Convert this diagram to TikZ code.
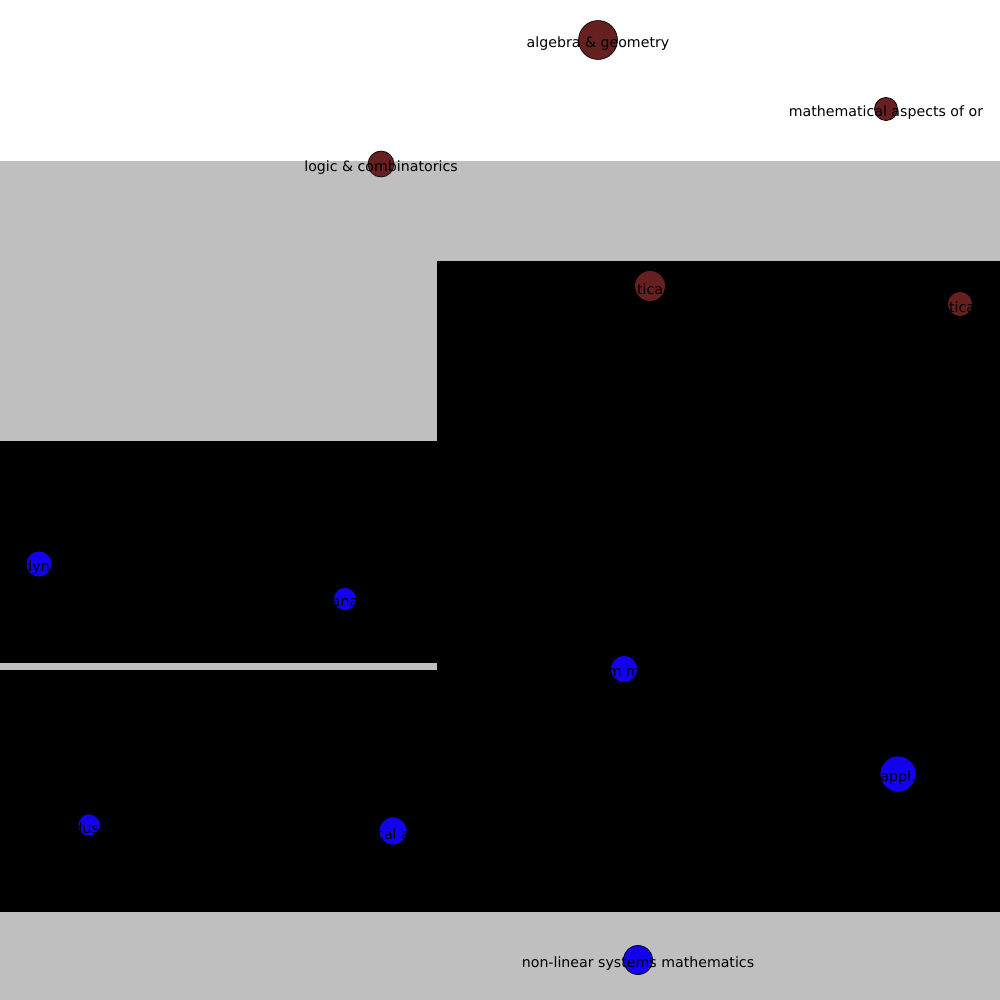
\documentclass[tikz,border=0pt]{standalone}
\usepackage{fontspec}
\setmainfont{DejaVu Sans}
\definecolor{bggray}{RGB}{191,191,191}
\definecolor{darkred}{RGB}{102,32,32}
\definecolor{nodeblue}{RGB}{20,0,240}
\tikzset{
  rednode/.style={circle,draw=black,line width=0.5pt,fill=darkred,inner sep=0pt},
  bluenode/.style={circle,draw=black,line width=0.5pt,fill=nodeblue,inner sep=0pt},
  lbl/.style={text=black,font=\fontsize{10.2pt}{12pt}\selectfont,inner sep=0pt}
}
\begin{document}
\begin{tikzpicture}[x=0.72pt,y=-0.72pt]
\useasboundingbox (0,0) rectangle (1000,1000);
\fill[white] (0,0) rectangle (1000,1000);
\fill[bggray] (0,161) rectangle (1000,1000);
\fill[black] (437,261) rectangle (1000,912);
\fill[black] (0,441) rectangle (437,663);
\fill[black] (0,670) rectangle (437,912);
% red nodes
\node[rednode,minimum size=28pt] (ag) at (598,40) {};
\node[lbl] (agl) at (598,43.5) {algebra \& geometry};
\node[rednode,minimum size=16.6pt] (mao) at (886,109) {};
\node[lbl] (maol) at (886,112.5) {mathematical aspects of or};
\node[rednode,minimum size=18.7pt] (lc) at (381,164) {};
\node[lbl] (lcl) at (381,167.5) {logic \& combinatorics};
\node[rednode,minimum size=22.3pt] (st) at (650,286) {};
\node[lbl] (stl) at (650,289.5) {tica};
\node[rednode,minimum size=18pt] (st2) at (960,304) {};
\node[lbl] (st2l) at (962,307.5) {tica};
% blue nodes
\node[bluenode,minimum size=18.7pt] (dy) at (39,564) {};
\node[lbl] (dyl) at (41,567.5) {dyna};
\node[bluenode,minimum size=16.6pt] (an) at (345,599) {};
\node[lbl] (anl) at (345,602.5) {ana};
\node[bluenode,minimum size=19.4pt] (mm) at (624,669) {};
\node[lbl] (mml) at (624,672.5) {m m};
\node[bluenode,minimum size=25.9pt] (ap) at (898,774) {};
\node[lbl] (apl) at (898,777.5) {appl.};
\node[bluenode,minimum size=15.8pt] (du) at (89,825) {};
\node[lbl] (dul) at (89,828.5) {dust};
\node[bluenode,minimum size=20.2pt] (ca) at (393,831) {};
\node[lbl] (cal) at (393,834.5) {cal a};
\node[bluenode,minimum size=20.9pt] (nl) at (638,960) {};
\node[lbl] (nll) at (638,963.5) {non-linear systems mathematics};
\end{tikzpicture}
\end{document}
